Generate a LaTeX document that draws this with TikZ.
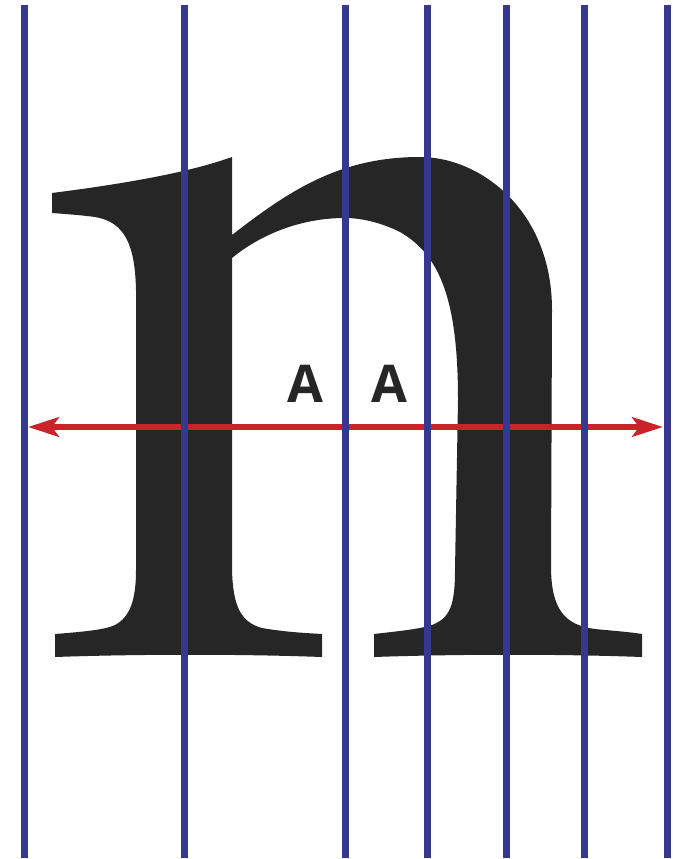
\documentclass[tikz,border=0pt]{standalone}
\usepackage{fontspec}
\newfontfamily\labelfont{Open Sans}
\usetikzlibrary{arrows.meta}
\definecolor{glyphgray}{HTML}{262626}
\definecolor{gridblue}{RGB}{54,55,144}
\definecolor{arrowred}{RGB}{204,34,41}
\tikzset{
  glyph/.style={fill=glyphgray, draw=none},
  gridline/.style={draw=gridblue, line width=5.25pt},
  measure/.style={draw=arrowred, line width=4.5pt,
    {Stealth[length=23pt,width=14.5pt,inset=5pt]}-{Stealth[length=23pt,width=14.5pt,inset=5pt]}},
  alabel/.style={text=glyphgray, inner sep=0pt, anchor=base,
    font=\labelfont\bfseries\fontsize{39}{39}\selectfont}
}
\begin{document}
\begin{tikzpicture}[x=0.75pt,y=-0.75pt]
\useasboundingbox (0,0) rectangle (672,859);
% the letter n
\path[glyph] (52,193) .. controls (130,183) and (190,172) .. (232,157)
  -- (232,235)
  .. controls (290,190) and (340,157) .. (420,157)
  .. controls (480,157) and (552,210) .. (552,310)
  -- (551,570)
  .. controls (552,610) and (565,625) .. (595,629)
  .. controls (615,631) and (630,632) .. (642,634)
  -- (642,657)
  .. controls (560,654) and (460,654) .. (374,657)
  -- (374,634)
  .. controls (400,631) and (420,629) .. (432,625)
  .. controls (450,618) and (455,605) .. (455,570)
  -- (458,400)
  .. controls (458,300) and (440,255) .. (400,232)
  .. controls (380,222) and (360,218) .. (345,218)
  .. controls (300,218) and (260,235) .. (232,258)
  -- (232,570)
  .. controls (233,605) and (240,622) .. (262,628)
  .. controls (285,632) and (305,633) .. (322,634)
  -- (322,657)
  .. controls (240,654) and (140,654) .. (55,657)
  -- (55,634)
  .. controls (80,632) and (105,630) .. (115,625)
  .. controls (130,617) and (136,600) .. (136,570)
  -- (136,290)
  .. controls (135,245) and (125,222) .. (95,217)
  .. controls (80,215) and (65,214) .. (52,213)
  -- cycle;
% labels
\node[alabel] (a1) at (305,402) {A};
\node[alabel] (a2) at (389,402) {A};
% measurement arrow
\coordinate (arrL) at (28,427);
\coordinate (arrR) at (663,427);
\draw[measure] (arrL) -- (arrR);
% vertical lines
\foreach \x in {24,184.5,345.5,427.5,506.5,584.5,667}{
  \draw[gridline] (\x,5) -- (\x,858);
}
\end{tikzpicture}
\end{document}
